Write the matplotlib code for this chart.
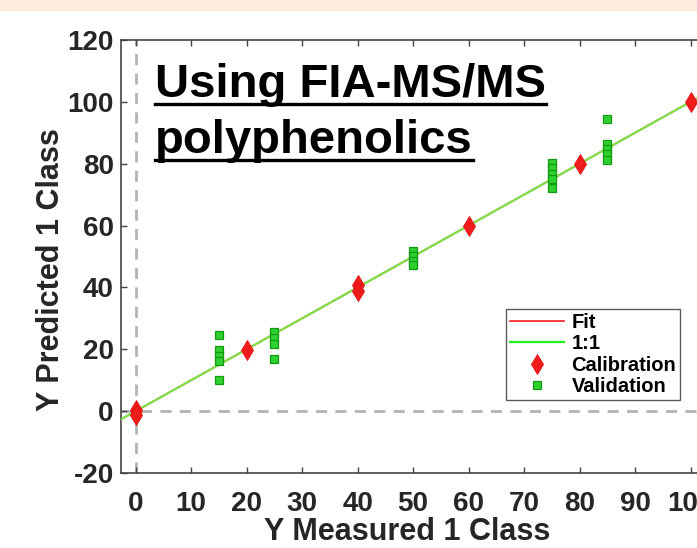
import matplotlib
matplotlib.use("Agg")
import matplotlib.pyplot as plt
from matplotlib.lines import Line2D
from matplotlib.patches import Rectangle
import numpy as np

# calibration (red diamonds)
cal_x = [0, 0, 20, 40, 40, 60, 80, 100]
cal_y = [0.3, -1.2, 19.8, 40.8, 38.8, 60.0, 80.0, 100.0]

# validation (green squares)
val_x = [15, 15, 15, 15, 15,
         25, 25, 25, 25,
         50, 50, 50, 50,
         75, 75, 75, 75, 75,
         85, 85, 85, 85, 85]
val_y = [24.6, 19.8, 17.9, 16.2, 10.2,
         25.7, 23.6, 21.8, 16.8,
         51.8, 50.2, 48.4, 47.2,
         80.3, 78.6, 76.8, 75.0, 72.3,
         94.4, 86.3, 84.7, 83.0, 81.3]

line_x = [-5, 110]
fit_y = [-5, 110]
one_y = [-5, 110]

xticks = [0, 10, 20, 30, 40, 50, 60, 70, 80, 90, 100]
yticks = [-20, 0, 20, 40, 60, 80, 100, 120]

plt.rcParams['font.family'] = ['Liberation Sans', 'DejaVu Sans']
plt.rcParams['font.weight'] = 'bold'
plt.rcParams['axes.unicode_minus'] = False

fig = plt.figure(figsize=(6.97, 5.48), dpi=100)
fig.patches.append(Rectangle((0, 1 - 10/548), 1, 10/548, transform=fig.transFigure,
                             color='#fdebdd', zorder=-1))

ax = fig.add_axes([120.7/697, 75/548, 597/697, 433/548])
ax.axvline(0, color='#b3b3b3', ls=(0, (4, 3)), lw=2, zorder=1)
ax.axhline(0, color='#b3b3b3', ls=(0, (4, 3)), lw=2, zorder=1)

ax.plot(line_x, fit_y, color='#ff2020', lw=1.2, label='Fit', zorder=2)
ax.plot(line_x, one_y, color='#7fe04a', lw=1.6, label='1:1', zorder=3)
ax.plot(cal_x, cal_y, ls='none', marker='d', markersize=9.9, color='#f01c1c',
        markeredgecolor='#e01010', markeredgewidth=0.6, label='Calibration', zorder=4)
ax.plot(val_x, val_y, ls='none', marker='s', markersize=6.3, color='#2ed12e',
        markeredgecolor='#159915', markeredgewidth=0.9, label='Validation', zorder=5)

ax.set_xlim(-2.7, 104.9)
ax.set_ylim(-20, 120)
ax.set_xticks(xticks)
ax.set_yticks(yticks)
ax.tick_params(direction='in', length=4.5, width=1, color='#444444',
               labelsize=20, labelcolor='#262626', top=True, right=True)
ax.tick_params(axis='x', pad=13)
ax.tick_params(axis='y', pad=5)
for s in ax.spines.values():
    s.set_color('#444444')
    s.set_linewidth(1.2)

ax.set_xlabel('Y Measured 1 Class', fontsize=22, fontweight='bold', color='#262626')
ax.set_ylabel('Y Predicted 1 Class', fontsize=22, fontweight='bold', color='#262626')
ax.xaxis.set_label_coords(0.4796, -0.101)
ax.yaxis.set_label_coords(-0.092, 0.469)

leg = ax.legend(loc='upper left', bbox_to_anchor=((506 - 120.7)/597, (473 - 309)/433),
                fontsize=14.5, frameon=True, fancybox=False, handlelength=2.7,
                handletextpad=0.35, labelspacing=0.12, borderpad=0.2,
                borderaxespad=0)
leg.get_frame().set_edgecolor('#333333')
leg.get_frame().set_linewidth(1)
leg.get_lines()[1].set_color('#22ee22')

# underlined annotation
t1 = fig.text(155/697, (548 - 97)/548, 'Using FIA-MS/MS', fontsize=34, fontweight='bold',
              color='black', va='baseline', ha='left')
t2 = fig.text(155/697, (548 - 153)/548, 'polyphenolics', fontsize=34, fontweight='bold',
              color='black', va='baseline', ha='left')
fig.canvas.draw()
r = fig.canvas.get_renderer()
for t, uy in [(t1, 104), (t2, 160)]:
    bb = t.get_window_extent(r)
    fig.lines.append(Line2D([bb.x0/697, bb.x1/697], [(548 - uy)/548]*2,
                            transform=fig.transFigure, color='black', lw=2.4))

fig.savefig('out.png', dpi=100)
